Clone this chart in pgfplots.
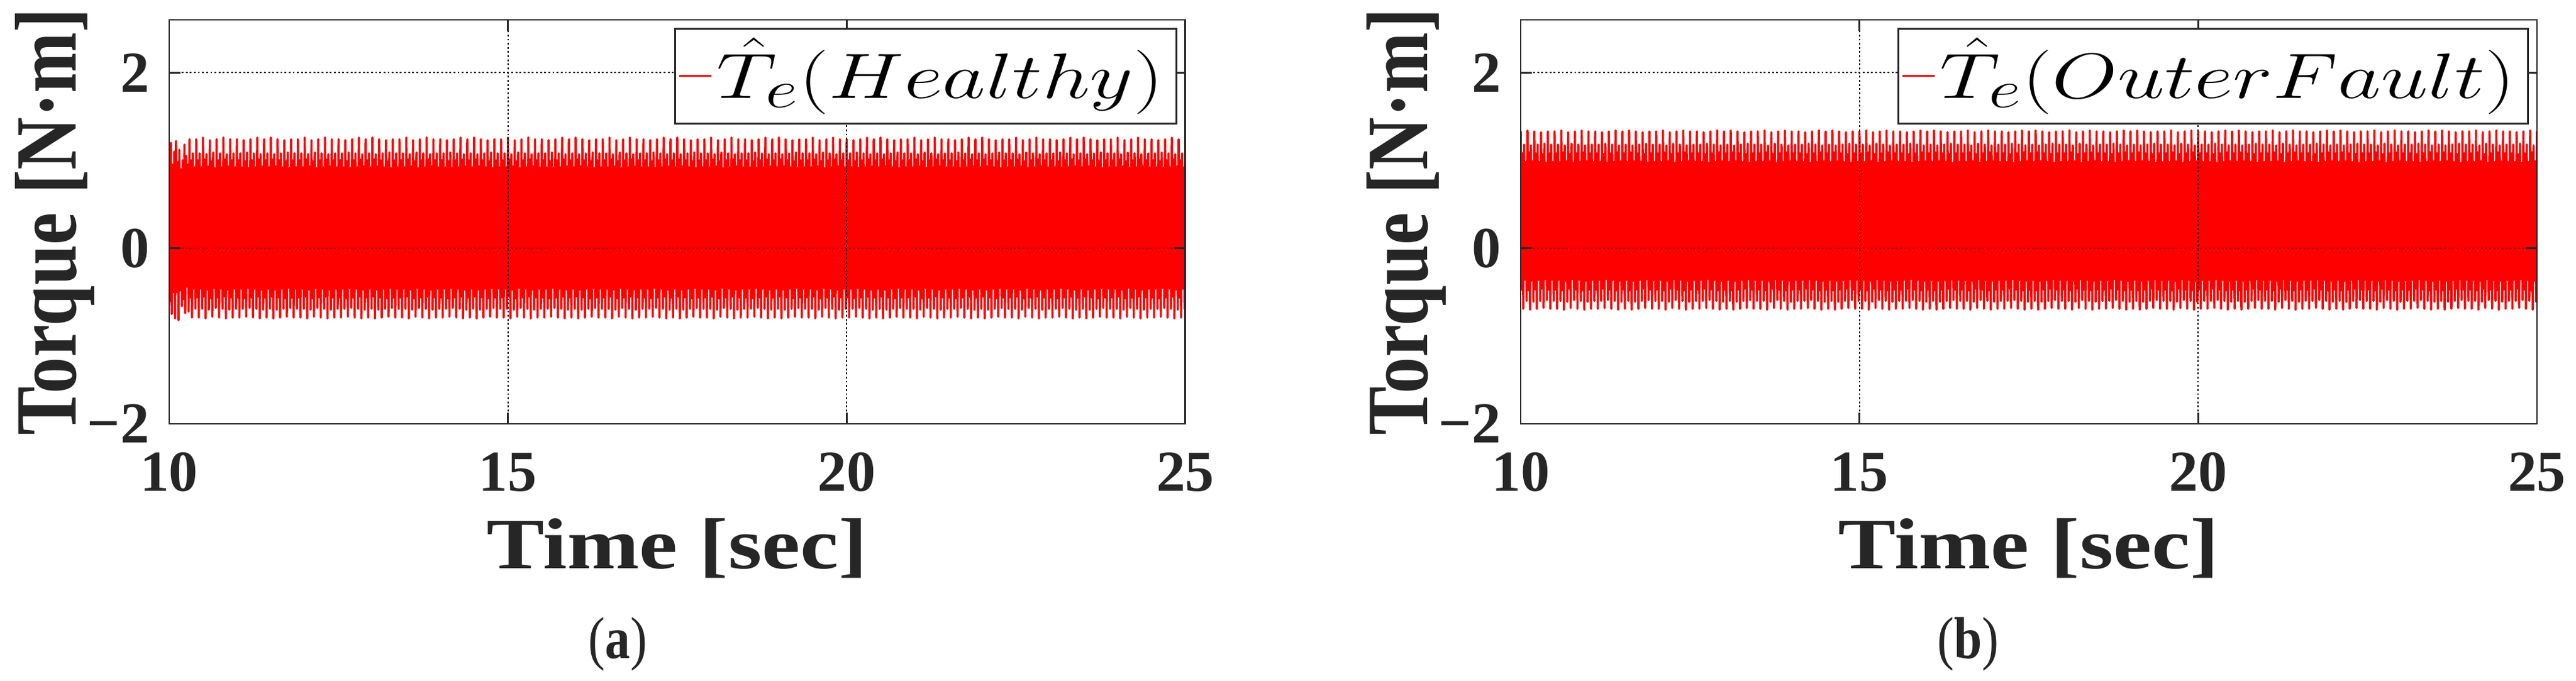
\documentclass[border=0pt]{standalone}
\usepackage{fontspec}
\setmainfont{Liberation Serif}
\newfontfamily\labfont[FakeStretch=1.2]{Liberation Serif}
\usepackage{graphicx}
\usepackage{pgfplots}
\pgfplotsset{compat=1.18}
\usepackage{pgfplotstable}
\definecolor{axgray}{RGB}{38,38,38}

% Healthy: 8 samples per 0.1 s period (one period per line), 150 periods + final point
\pgfplotstableread[header=false,row sep=\\]{
1.05\\-0.60\\1.20\\-0.75\\0.95\\-0.50\\1.10\\-0.80\\
1.22\\-0.50\\0.98\\-0.82\\1.12\\-0.48\\0.90\\-0.66\\
1.00\\-0.58\\1.18\\-0.74\\1.05\\-0.44\\0.95\\-0.72\\
1.24\\-0.56\\1.00\\-0.79\\1.08\\-0.46\\0.92\\-0.69\\
1.24\\-0.56\\1.00\\-0.79\\1.08\\-0.46\\0.92\\-0.69\\
1.26\\-0.55\\1.01\\-0.80\\1.07\\-0.47\\0.93\\-0.70\\
1.23\\-0.57\\0.99\\-0.78\\1.09\\-0.45\\0.91\\-0.68\\
1.24\\-0.56\\1.00\\-0.79\\1.08\\-0.46\\0.92\\-0.69\\
1.26\\-0.55\\1.01\\-0.80\\1.07\\-0.47\\0.93\\-0.70\\
1.24\\-0.56\\1.00\\-0.79\\1.08\\-0.46\\0.92\\-0.69\\
1.24\\-0.56\\1.00\\-0.79\\1.08\\-0.46\\0.92\\-0.69\\
1.23\\-0.57\\0.99\\-0.78\\1.09\\-0.45\\0.91\\-0.68\\
1.24\\-0.56\\1.00\\-0.79\\1.08\\-0.46\\0.92\\-0.69\\
1.26\\-0.55\\1.01\\-0.80\\1.07\\-0.47\\0.93\\-0.70\\
1.24\\-0.56\\1.00\\-0.79\\1.08\\-0.46\\0.92\\-0.69\\
1.26\\-0.55\\1.01\\-0.80\\1.07\\-0.47\\0.93\\-0.70\\
1.24\\-0.56\\1.00\\-0.79\\1.08\\-0.46\\0.92\\-0.69\\
1.23\\-0.57\\0.99\\-0.78\\1.09\\-0.45\\0.91\\-0.68\\
1.24\\-0.56\\1.00\\-0.79\\1.08\\-0.46\\0.92\\-0.69\\
1.24\\-0.56\\1.00\\-0.79\\1.08\\-0.46\\0.92\\-0.69\\
1.26\\-0.55\\1.01\\-0.80\\1.07\\-0.47\\0.93\\-0.70\\
1.23\\-0.57\\0.99\\-0.78\\1.09\\-0.45\\0.91\\-0.68\\
1.24\\-0.56\\1.00\\-0.79\\1.08\\-0.46\\0.92\\-0.69\\
1.26\\-0.55\\1.01\\-0.80\\1.07\\-0.47\\0.93\\-0.70\\
1.24\\-0.56\\1.00\\-0.79\\1.08\\-0.46\\0.92\\-0.69\\
1.24\\-0.56\\1.00\\-0.79\\1.08\\-0.46\\0.92\\-0.69\\
1.23\\-0.57\\0.99\\-0.78\\1.09\\-0.45\\0.91\\-0.68\\
1.24\\-0.56\\1.00\\-0.79\\1.08\\-0.46\\0.92\\-0.69\\
1.26\\-0.55\\1.01\\-0.80\\1.07\\-0.47\\0.93\\-0.70\\
1.24\\-0.56\\1.00\\-0.79\\1.08\\-0.46\\0.92\\-0.69\\
1.26\\-0.55\\1.01\\-0.80\\1.07\\-0.47\\0.93\\-0.70\\
1.24\\-0.56\\1.00\\-0.79\\1.08\\-0.46\\0.92\\-0.69\\
1.23\\-0.57\\0.99\\-0.78\\1.09\\-0.45\\0.91\\-0.68\\
1.24\\-0.56\\1.00\\-0.79\\1.08\\-0.46\\0.92\\-0.69\\
1.24\\-0.56\\1.00\\-0.79\\1.08\\-0.46\\0.92\\-0.69\\
1.26\\-0.55\\1.01\\-0.80\\1.07\\-0.47\\0.93\\-0.70\\
1.23\\-0.57\\0.99\\-0.78\\1.09\\-0.45\\0.91\\-0.68\\
1.24\\-0.56\\1.00\\-0.79\\1.08\\-0.46\\0.92\\-0.69\\
1.26\\-0.55\\1.01\\-0.80\\1.07\\-0.47\\0.93\\-0.70\\
1.24\\-0.56\\1.00\\-0.79\\1.08\\-0.46\\0.92\\-0.69\\
1.24\\-0.56\\1.00\\-0.79\\1.08\\-0.46\\0.92\\-0.69\\
1.23\\-0.57\\0.99\\-0.78\\1.09\\-0.45\\0.91\\-0.68\\
1.24\\-0.56\\1.00\\-0.79\\1.08\\-0.46\\0.92\\-0.69\\
1.26\\-0.55\\1.01\\-0.80\\1.07\\-0.47\\0.93\\-0.70\\
1.24\\-0.56\\1.00\\-0.79\\1.08\\-0.46\\0.92\\-0.69\\
1.26\\-0.55\\1.01\\-0.80\\1.07\\-0.47\\0.93\\-0.70\\
1.24\\-0.56\\1.00\\-0.79\\1.08\\-0.46\\0.92\\-0.69\\
1.23\\-0.57\\0.99\\-0.78\\1.09\\-0.45\\0.91\\-0.68\\
1.24\\-0.56\\1.00\\-0.79\\1.08\\-0.46\\0.92\\-0.69\\
1.24\\-0.56\\1.00\\-0.79\\1.08\\-0.46\\0.92\\-0.69\\
1.26\\-0.55\\1.01\\-0.80\\1.07\\-0.47\\0.93\\-0.70\\
1.23\\-0.57\\0.99\\-0.78\\1.09\\-0.45\\0.91\\-0.68\\
1.24\\-0.56\\1.00\\-0.79\\1.08\\-0.46\\0.92\\-0.69\\
1.26\\-0.55\\1.01\\-0.80\\1.07\\-0.47\\0.93\\-0.70\\
1.24\\-0.56\\1.00\\-0.79\\1.08\\-0.46\\0.92\\-0.69\\
1.24\\-0.56\\1.00\\-0.79\\1.08\\-0.46\\0.92\\-0.69\\
1.23\\-0.57\\0.99\\-0.78\\1.09\\-0.45\\0.91\\-0.68\\
1.24\\-0.56\\1.00\\-0.79\\1.08\\-0.46\\0.92\\-0.69\\
1.26\\-0.55\\1.01\\-0.80\\1.07\\-0.47\\0.93\\-0.70\\
1.24\\-0.56\\1.00\\-0.79\\1.08\\-0.46\\0.92\\-0.69\\
1.26\\-0.55\\1.01\\-0.80\\1.07\\-0.47\\0.93\\-0.70\\
1.24\\-0.56\\1.00\\-0.79\\1.08\\-0.46\\0.92\\-0.69\\
1.23\\-0.57\\0.99\\-0.78\\1.09\\-0.45\\0.91\\-0.68\\
1.24\\-0.56\\1.00\\-0.79\\1.08\\-0.46\\0.92\\-0.69\\
1.24\\-0.56\\1.00\\-0.79\\1.08\\-0.46\\0.92\\-0.69\\
1.26\\-0.55\\1.01\\-0.80\\1.07\\-0.47\\0.93\\-0.70\\
1.23\\-0.57\\0.99\\-0.78\\1.09\\-0.45\\0.91\\-0.68\\
1.24\\-0.56\\1.00\\-0.79\\1.08\\-0.46\\0.92\\-0.69\\
1.26\\-0.55\\1.01\\-0.80\\1.07\\-0.47\\0.93\\-0.70\\
1.24\\-0.56\\1.00\\-0.79\\1.08\\-0.46\\0.92\\-0.69\\
1.24\\-0.56\\1.00\\-0.79\\1.08\\-0.46\\0.92\\-0.69\\
1.23\\-0.57\\0.99\\-0.78\\1.09\\-0.45\\0.91\\-0.68\\
1.24\\-0.56\\1.00\\-0.79\\1.08\\-0.46\\0.92\\-0.69\\
1.26\\-0.55\\1.01\\-0.80\\1.07\\-0.47\\0.93\\-0.70\\
1.24\\-0.56\\1.00\\-0.79\\1.08\\-0.46\\0.92\\-0.69\\
1.26\\-0.55\\1.01\\-0.80\\1.07\\-0.47\\0.93\\-0.70\\
1.24\\-0.56\\1.00\\-0.79\\1.08\\-0.46\\0.92\\-0.69\\
1.23\\-0.57\\0.99\\-0.78\\1.09\\-0.45\\0.91\\-0.68\\
1.24\\-0.56\\1.00\\-0.79\\1.08\\-0.46\\0.92\\-0.69\\
1.24\\-0.56\\1.00\\-0.79\\1.08\\-0.46\\0.92\\-0.69\\
1.26\\-0.55\\1.01\\-0.80\\1.07\\-0.47\\0.93\\-0.70\\
1.23\\-0.57\\0.99\\-0.78\\1.09\\-0.45\\0.91\\-0.68\\
1.24\\-0.56\\1.00\\-0.79\\1.08\\-0.46\\0.92\\-0.69\\
1.26\\-0.55\\1.01\\-0.80\\1.07\\-0.47\\0.93\\-0.70\\
1.24\\-0.56\\1.00\\-0.79\\1.08\\-0.46\\0.92\\-0.69\\
1.24\\-0.56\\1.00\\-0.79\\1.08\\-0.46\\0.92\\-0.69\\
1.23\\-0.57\\0.99\\-0.78\\1.09\\-0.45\\0.91\\-0.68\\
1.24\\-0.56\\1.00\\-0.79\\1.08\\-0.46\\0.92\\-0.69\\
1.26\\-0.55\\1.01\\-0.80\\1.07\\-0.47\\0.93\\-0.70\\
1.24\\-0.56\\1.00\\-0.79\\1.08\\-0.46\\0.92\\-0.69\\
1.26\\-0.55\\1.01\\-0.80\\1.07\\-0.47\\0.93\\-0.70\\
1.24\\-0.56\\1.00\\-0.79\\1.08\\-0.46\\0.92\\-0.69\\
1.23\\-0.57\\0.99\\-0.78\\1.09\\-0.45\\0.91\\-0.68\\
1.24\\-0.56\\1.00\\-0.79\\1.08\\-0.46\\0.92\\-0.69\\
1.24\\-0.56\\1.00\\-0.79\\1.08\\-0.46\\0.92\\-0.69\\
1.26\\-0.55\\1.01\\-0.80\\1.07\\-0.47\\0.93\\-0.70\\
1.23\\-0.57\\0.99\\-0.78\\1.09\\-0.45\\0.91\\-0.68\\
1.24\\-0.56\\1.00\\-0.79\\1.08\\-0.46\\0.92\\-0.69\\
1.26\\-0.55\\1.01\\-0.80\\1.07\\-0.47\\0.93\\-0.70\\
1.24\\-0.56\\1.00\\-0.79\\1.08\\-0.46\\0.92\\-0.69\\
1.24\\-0.56\\1.00\\-0.79\\1.08\\-0.46\\0.92\\-0.69\\
1.23\\-0.57\\0.99\\-0.78\\1.09\\-0.45\\0.91\\-0.68\\
1.24\\-0.56\\1.00\\-0.79\\1.08\\-0.46\\0.92\\-0.69\\
1.26\\-0.55\\1.01\\-0.80\\1.07\\-0.47\\0.93\\-0.70\\
1.24\\-0.56\\1.00\\-0.79\\1.08\\-0.46\\0.92\\-0.69\\
1.26\\-0.55\\1.01\\-0.80\\1.07\\-0.47\\0.93\\-0.70\\
1.24\\-0.56\\1.00\\-0.79\\1.08\\-0.46\\0.92\\-0.69\\
1.23\\-0.57\\0.99\\-0.78\\1.09\\-0.45\\0.91\\-0.68\\
1.24\\-0.56\\1.00\\-0.79\\1.08\\-0.46\\0.92\\-0.69\\
1.24\\-0.56\\1.00\\-0.79\\1.08\\-0.46\\0.92\\-0.69\\
1.26\\-0.55\\1.01\\-0.80\\1.07\\-0.47\\0.93\\-0.70\\
1.23\\-0.57\\0.99\\-0.78\\1.09\\-0.45\\0.91\\-0.68\\
1.24\\-0.56\\1.00\\-0.79\\1.08\\-0.46\\0.92\\-0.69\\
1.26\\-0.55\\1.01\\-0.80\\1.07\\-0.47\\0.93\\-0.70\\
1.24\\-0.56\\1.00\\-0.79\\1.08\\-0.46\\0.92\\-0.69\\
1.24\\-0.56\\1.00\\-0.79\\1.08\\-0.46\\0.92\\-0.69\\
1.23\\-0.57\\0.99\\-0.78\\1.09\\-0.45\\0.91\\-0.68\\
1.24\\-0.56\\1.00\\-0.79\\1.08\\-0.46\\0.92\\-0.69\\
1.26\\-0.55\\1.01\\-0.80\\1.07\\-0.47\\0.93\\-0.70\\
1.24\\-0.56\\1.00\\-0.79\\1.08\\-0.46\\0.92\\-0.69\\
1.26\\-0.55\\1.01\\-0.80\\1.07\\-0.47\\0.93\\-0.70\\
1.24\\-0.56\\1.00\\-0.79\\1.08\\-0.46\\0.92\\-0.69\\
1.23\\-0.57\\0.99\\-0.78\\1.09\\-0.45\\0.91\\-0.68\\
1.24\\-0.56\\1.00\\-0.79\\1.08\\-0.46\\0.92\\-0.69\\
1.24\\-0.56\\1.00\\-0.79\\1.08\\-0.46\\0.92\\-0.69\\
1.26\\-0.55\\1.01\\-0.80\\1.07\\-0.47\\0.93\\-0.70\\
1.23\\-0.57\\0.99\\-0.78\\1.09\\-0.45\\0.91\\-0.68\\
1.24\\-0.56\\1.00\\-0.79\\1.08\\-0.46\\0.92\\-0.69\\
1.26\\-0.55\\1.01\\-0.80\\1.07\\-0.47\\0.93\\-0.70\\
1.24\\-0.56\\1.00\\-0.79\\1.08\\-0.46\\0.92\\-0.69\\
1.24\\-0.56\\1.00\\-0.79\\1.08\\-0.46\\0.92\\-0.69\\
1.23\\-0.57\\0.99\\-0.78\\1.09\\-0.45\\0.91\\-0.68\\
1.24\\-0.56\\1.00\\-0.79\\1.08\\-0.46\\0.92\\-0.69\\
1.26\\-0.55\\1.01\\-0.80\\1.07\\-0.47\\0.93\\-0.70\\
1.24\\-0.56\\1.00\\-0.79\\1.08\\-0.46\\0.92\\-0.69\\
1.26\\-0.55\\1.01\\-0.80\\1.07\\-0.47\\0.93\\-0.70\\
1.24\\-0.56\\1.00\\-0.79\\1.08\\-0.46\\0.92\\-0.69\\
1.23\\-0.57\\0.99\\-0.78\\1.09\\-0.45\\0.91\\-0.68\\
1.24\\-0.56\\1.00\\-0.79\\1.08\\-0.46\\0.92\\-0.69\\
1.24\\-0.56\\1.00\\-0.79\\1.08\\-0.46\\0.92\\-0.69\\
1.26\\-0.55\\1.01\\-0.80\\1.07\\-0.47\\0.93\\-0.70\\
1.23\\-0.57\\0.99\\-0.78\\1.09\\-0.45\\0.91\\-0.68\\
1.24\\-0.56\\1.00\\-0.79\\1.08\\-0.46\\0.92\\-0.69\\
1.26\\-0.55\\1.01\\-0.80\\1.07\\-0.47\\0.93\\-0.70\\
1.24\\-0.56\\1.00\\-0.79\\1.08\\-0.46\\0.92\\-0.69\\
1.24\\-0.56\\1.00\\-0.79\\1.08\\-0.46\\0.92\\-0.69\\
1.23\\-0.57\\0.99\\-0.78\\1.09\\-0.45\\0.91\\-0.68\\
1.24\\-0.56\\1.00\\-0.79\\1.08\\-0.46\\0.92\\-0.69\\
1.26\\-0.55\\1.01\\-0.80\\1.07\\-0.47\\0.93\\-0.70\\
1.24\\-0.56\\1.00\\-0.79\\1.08\\-0.46\\0.92\\-0.69\\
1.24\\
}\healthy

% Outer fault: same sampling
\pgfplotstableread[header=false,row sep=\\]{
1.33\\-0.47\\1.08\\-0.69\\1.18\\-0.36\\0.98\\-0.60\\
1.34\\-0.48\\1.09\\-0.70\\1.17\\-0.37\\0.99\\-0.61\\
1.33\\-0.47\\1.08\\-0.69\\1.18\\-0.36\\0.98\\-0.60\\
1.32\\-0.46\\1.07\\-0.68\\1.19\\-0.35\\0.97\\-0.59\\
1.33\\-0.47\\1.08\\-0.69\\1.18\\-0.36\\0.98\\-0.60\\
1.33\\-0.47\\1.08\\-0.69\\1.18\\-0.36\\0.98\\-0.60\\
1.34\\-0.48\\1.09\\-0.70\\1.17\\-0.37\\0.99\\-0.61\\
1.32\\-0.46\\1.07\\-0.68\\1.19\\-0.35\\0.97\\-0.59\\
1.33\\-0.47\\1.08\\-0.69\\1.18\\-0.36\\0.98\\-0.60\\
1.34\\-0.48\\1.09\\-0.70\\1.17\\-0.37\\0.99\\-0.61\\
1.33\\-0.47\\1.08\\-0.69\\1.18\\-0.36\\0.98\\-0.60\\
1.33\\-0.47\\1.08\\-0.69\\1.18\\-0.36\\0.98\\-0.60\\
1.32\\-0.46\\1.07\\-0.68\\1.19\\-0.35\\0.97\\-0.59\\
1.33\\-0.47\\1.08\\-0.69\\1.18\\-0.36\\0.98\\-0.60\\
1.34\\-0.48\\1.09\\-0.70\\1.17\\-0.37\\0.99\\-0.61\\
1.33\\-0.47\\1.08\\-0.69\\1.18\\-0.36\\0.98\\-0.60\\
1.34\\-0.48\\1.09\\-0.70\\1.17\\-0.37\\0.99\\-0.61\\
1.33\\-0.47\\1.08\\-0.69\\1.18\\-0.36\\0.98\\-0.60\\
1.32\\-0.46\\1.07\\-0.68\\1.19\\-0.35\\0.97\\-0.59\\
1.33\\-0.47\\1.08\\-0.69\\1.18\\-0.36\\0.98\\-0.60\\
1.33\\-0.47\\1.08\\-0.69\\1.18\\-0.36\\0.98\\-0.60\\
1.34\\-0.48\\1.09\\-0.70\\1.17\\-0.37\\0.99\\-0.61\\
1.32\\-0.46\\1.07\\-0.68\\1.19\\-0.35\\0.97\\-0.59\\
1.33\\-0.47\\1.08\\-0.69\\1.18\\-0.36\\0.98\\-0.60\\
1.34\\-0.48\\1.09\\-0.70\\1.17\\-0.37\\0.99\\-0.61\\
1.33\\-0.47\\1.08\\-0.69\\1.18\\-0.36\\0.98\\-0.60\\
1.33\\-0.47\\1.08\\-0.69\\1.18\\-0.36\\0.98\\-0.60\\
1.32\\-0.46\\1.07\\-0.68\\1.19\\-0.35\\0.97\\-0.59\\
1.33\\-0.47\\1.08\\-0.69\\1.18\\-0.36\\0.98\\-0.60\\
1.34\\-0.48\\1.09\\-0.70\\1.17\\-0.37\\0.99\\-0.61\\
1.33\\-0.47\\1.08\\-0.69\\1.18\\-0.36\\0.98\\-0.60\\
1.34\\-0.48\\1.09\\-0.70\\1.17\\-0.37\\0.99\\-0.61\\
1.33\\-0.47\\1.08\\-0.69\\1.18\\-0.36\\0.98\\-0.60\\
1.32\\-0.46\\1.07\\-0.68\\1.19\\-0.35\\0.97\\-0.59\\
1.33\\-0.47\\1.08\\-0.69\\1.18\\-0.36\\0.98\\-0.60\\
1.33\\-0.47\\1.08\\-0.69\\1.18\\-0.36\\0.98\\-0.60\\
1.34\\-0.48\\1.09\\-0.70\\1.17\\-0.37\\0.99\\-0.61\\
1.32\\-0.46\\1.07\\-0.68\\1.19\\-0.35\\0.97\\-0.59\\
1.33\\-0.47\\1.08\\-0.69\\1.18\\-0.36\\0.98\\-0.60\\
1.34\\-0.48\\1.09\\-0.70\\1.17\\-0.37\\0.99\\-0.61\\
1.33\\-0.47\\1.08\\-0.69\\1.18\\-0.36\\0.98\\-0.60\\
1.33\\-0.47\\1.08\\-0.69\\1.18\\-0.36\\0.98\\-0.60\\
1.32\\-0.46\\1.07\\-0.68\\1.19\\-0.35\\0.97\\-0.59\\
1.33\\-0.47\\1.08\\-0.69\\1.18\\-0.36\\0.98\\-0.60\\
1.34\\-0.48\\1.09\\-0.70\\1.17\\-0.37\\0.99\\-0.61\\
1.33\\-0.47\\1.08\\-0.69\\1.18\\-0.36\\0.98\\-0.60\\
1.34\\-0.48\\1.09\\-0.70\\1.17\\-0.37\\0.99\\-0.61\\
1.33\\-0.47\\1.08\\-0.69\\1.18\\-0.36\\0.98\\-0.60\\
1.32\\-0.46\\1.07\\-0.68\\1.19\\-0.35\\0.97\\-0.59\\
1.33\\-0.47\\1.08\\-0.69\\1.18\\-0.36\\0.98\\-0.60\\
1.33\\-0.47\\1.08\\-0.69\\1.18\\-0.36\\0.98\\-0.60\\
1.34\\-0.48\\1.09\\-0.70\\1.17\\-0.37\\0.99\\-0.61\\
1.32\\-0.46\\1.07\\-0.68\\1.19\\-0.35\\0.97\\-0.59\\
1.33\\-0.47\\1.08\\-0.69\\1.18\\-0.36\\0.98\\-0.60\\
1.34\\-0.48\\1.09\\-0.70\\1.17\\-0.37\\0.99\\-0.61\\
1.33\\-0.47\\1.08\\-0.69\\1.18\\-0.36\\0.98\\-0.60\\
1.33\\-0.47\\1.08\\-0.69\\1.18\\-0.36\\0.98\\-0.60\\
1.32\\-0.46\\1.07\\-0.68\\1.19\\-0.35\\0.97\\-0.59\\
1.33\\-0.47\\1.08\\-0.69\\1.18\\-0.36\\0.98\\-0.60\\
1.34\\-0.48\\1.09\\-0.70\\1.17\\-0.37\\0.99\\-0.61\\
1.33\\-0.47\\1.08\\-0.69\\1.18\\-0.36\\0.98\\-0.60\\
1.34\\-0.48\\1.09\\-0.70\\1.17\\-0.37\\0.99\\-0.61\\
1.33\\-0.47\\1.08\\-0.69\\1.18\\-0.36\\0.98\\-0.60\\
1.32\\-0.46\\1.07\\-0.68\\1.19\\-0.35\\0.97\\-0.59\\
1.33\\-0.47\\1.08\\-0.69\\1.18\\-0.36\\0.98\\-0.60\\
1.33\\-0.47\\1.08\\-0.69\\1.18\\-0.36\\0.98\\-0.60\\
1.34\\-0.48\\1.09\\-0.70\\1.17\\-0.37\\0.99\\-0.61\\
1.32\\-0.46\\1.07\\-0.68\\1.19\\-0.35\\0.97\\-0.59\\
1.33\\-0.47\\1.08\\-0.69\\1.18\\-0.36\\0.98\\-0.60\\
1.34\\-0.48\\1.09\\-0.70\\1.17\\-0.37\\0.99\\-0.61\\
1.33\\-0.47\\1.08\\-0.69\\1.18\\-0.36\\0.98\\-0.60\\
1.33\\-0.47\\1.08\\-0.69\\1.18\\-0.36\\0.98\\-0.60\\
1.32\\-0.46\\1.07\\-0.68\\1.19\\-0.35\\0.97\\-0.59\\
1.33\\-0.47\\1.08\\-0.69\\1.18\\-0.36\\0.98\\-0.60\\
1.34\\-0.48\\1.09\\-0.70\\1.17\\-0.37\\0.99\\-0.61\\
1.33\\-0.47\\1.08\\-0.69\\1.18\\-0.36\\0.98\\-0.60\\
1.34\\-0.48\\1.09\\-0.70\\1.17\\-0.37\\0.99\\-0.61\\
1.33\\-0.47\\1.08\\-0.69\\1.18\\-0.36\\0.98\\-0.60\\
1.32\\-0.46\\1.07\\-0.68\\1.19\\-0.35\\0.97\\-0.59\\
1.33\\-0.47\\1.08\\-0.69\\1.18\\-0.36\\0.98\\-0.60\\
1.33\\-0.47\\1.08\\-0.69\\1.18\\-0.36\\0.98\\-0.60\\
1.34\\-0.48\\1.09\\-0.70\\1.17\\-0.37\\0.99\\-0.61\\
1.32\\-0.46\\1.07\\-0.68\\1.19\\-0.35\\0.97\\-0.59\\
1.33\\-0.47\\1.08\\-0.69\\1.18\\-0.36\\0.98\\-0.60\\
1.34\\-0.48\\1.09\\-0.70\\1.17\\-0.37\\0.99\\-0.61\\
1.33\\-0.47\\1.08\\-0.69\\1.18\\-0.36\\0.98\\-0.60\\
1.33\\-0.47\\1.08\\-0.69\\1.18\\-0.36\\0.98\\-0.60\\
1.32\\-0.46\\1.07\\-0.68\\1.19\\-0.35\\0.97\\-0.59\\
1.33\\-0.47\\1.08\\-0.69\\1.18\\-0.36\\0.98\\-0.60\\
1.34\\-0.48\\1.09\\-0.70\\1.17\\-0.37\\0.99\\-0.61\\
1.33\\-0.47\\1.08\\-0.69\\1.18\\-0.36\\0.98\\-0.60\\
1.34\\-0.48\\1.09\\-0.70\\1.17\\-0.37\\0.99\\-0.61\\
1.33\\-0.47\\1.08\\-0.69\\1.18\\-0.36\\0.98\\-0.60\\
1.32\\-0.46\\1.07\\-0.68\\1.19\\-0.35\\0.97\\-0.59\\
1.33\\-0.47\\1.08\\-0.69\\1.18\\-0.36\\0.98\\-0.60\\
1.33\\-0.47\\1.08\\-0.69\\1.18\\-0.36\\0.98\\-0.60\\
1.34\\-0.48\\1.09\\-0.70\\1.17\\-0.37\\0.99\\-0.61\\
1.32\\-0.46\\1.07\\-0.68\\1.19\\-0.35\\0.97\\-0.59\\
1.33\\-0.47\\1.08\\-0.69\\1.18\\-0.36\\0.98\\-0.60\\
1.34\\-0.48\\1.09\\-0.70\\1.17\\-0.37\\0.99\\-0.61\\
1.33\\-0.47\\1.08\\-0.69\\1.18\\-0.36\\0.98\\-0.60\\
1.33\\-0.47\\1.08\\-0.69\\1.18\\-0.36\\0.98\\-0.60\\
1.32\\-0.46\\1.07\\-0.68\\1.19\\-0.35\\0.97\\-0.59\\
1.33\\-0.47\\1.08\\-0.69\\1.18\\-0.36\\0.98\\-0.60\\
1.34\\-0.48\\1.09\\-0.70\\1.17\\-0.37\\0.99\\-0.61\\
1.33\\-0.47\\1.08\\-0.69\\1.18\\-0.36\\0.98\\-0.60\\
1.34\\-0.48\\1.09\\-0.70\\1.17\\-0.37\\0.99\\-0.61\\
1.33\\-0.47\\1.08\\-0.69\\1.18\\-0.36\\0.98\\-0.60\\
1.32\\-0.46\\1.07\\-0.68\\1.19\\-0.35\\0.97\\-0.59\\
1.33\\-0.47\\1.08\\-0.69\\1.18\\-0.36\\0.98\\-0.60\\
1.33\\-0.47\\1.08\\-0.69\\1.18\\-0.36\\0.98\\-0.60\\
1.34\\-0.48\\1.09\\-0.70\\1.17\\-0.37\\0.99\\-0.61\\
1.32\\-0.46\\1.07\\-0.68\\1.19\\-0.35\\0.97\\-0.59\\
1.33\\-0.47\\1.08\\-0.69\\1.18\\-0.36\\0.98\\-0.60\\
1.34\\-0.48\\1.09\\-0.70\\1.17\\-0.37\\0.99\\-0.61\\
1.33\\-0.47\\1.08\\-0.69\\1.18\\-0.36\\0.98\\-0.60\\
1.33\\-0.47\\1.08\\-0.69\\1.18\\-0.36\\0.98\\-0.60\\
1.32\\-0.46\\1.07\\-0.68\\1.19\\-0.35\\0.97\\-0.59\\
1.33\\-0.47\\1.08\\-0.69\\1.18\\-0.36\\0.98\\-0.60\\
1.34\\-0.48\\1.09\\-0.70\\1.17\\-0.37\\0.99\\-0.61\\
1.33\\-0.47\\1.08\\-0.69\\1.18\\-0.36\\0.98\\-0.60\\
1.34\\-0.48\\1.09\\-0.70\\1.17\\-0.37\\0.99\\-0.61\\
1.33\\-0.47\\1.08\\-0.69\\1.18\\-0.36\\0.98\\-0.60\\
1.32\\-0.46\\1.07\\-0.68\\1.19\\-0.35\\0.97\\-0.59\\
1.33\\-0.47\\1.08\\-0.69\\1.18\\-0.36\\0.98\\-0.60\\
1.33\\-0.47\\1.08\\-0.69\\1.18\\-0.36\\0.98\\-0.60\\
1.34\\-0.48\\1.09\\-0.70\\1.17\\-0.37\\0.99\\-0.61\\
1.32\\-0.46\\1.07\\-0.68\\1.19\\-0.35\\0.97\\-0.59\\
1.33\\-0.47\\1.08\\-0.69\\1.18\\-0.36\\0.98\\-0.60\\
1.34\\-0.48\\1.09\\-0.70\\1.17\\-0.37\\0.99\\-0.61\\
1.33\\-0.47\\1.08\\-0.69\\1.18\\-0.36\\0.98\\-0.60\\
1.33\\-0.47\\1.08\\-0.69\\1.18\\-0.36\\0.98\\-0.60\\
1.32\\-0.46\\1.07\\-0.68\\1.19\\-0.35\\0.97\\-0.59\\
1.33\\-0.47\\1.08\\-0.69\\1.18\\-0.36\\0.98\\-0.60\\
1.34\\-0.48\\1.09\\-0.70\\1.17\\-0.37\\0.99\\-0.61\\
1.33\\-0.47\\1.08\\-0.69\\1.18\\-0.36\\0.98\\-0.60\\
1.34\\-0.48\\1.09\\-0.70\\1.17\\-0.37\\0.99\\-0.61\\
1.33\\-0.47\\1.08\\-0.69\\1.18\\-0.36\\0.98\\-0.60\\
1.32\\-0.46\\1.07\\-0.68\\1.19\\-0.35\\0.97\\-0.59\\
1.33\\-0.47\\1.08\\-0.69\\1.18\\-0.36\\0.98\\-0.60\\
1.33\\-0.47\\1.08\\-0.69\\1.18\\-0.36\\0.98\\-0.60\\
1.34\\-0.48\\1.09\\-0.70\\1.17\\-0.37\\0.99\\-0.61\\
1.32\\-0.46\\1.07\\-0.68\\1.19\\-0.35\\0.97\\-0.59\\
1.33\\-0.47\\1.08\\-0.69\\1.18\\-0.36\\0.98\\-0.60\\
1.34\\-0.48\\1.09\\-0.70\\1.17\\-0.37\\0.99\\-0.61\\
1.33\\-0.47\\1.08\\-0.69\\1.18\\-0.36\\0.98\\-0.60\\
1.33\\-0.47\\1.08\\-0.69\\1.18\\-0.36\\0.98\\-0.60\\
1.32\\-0.46\\1.07\\-0.68\\1.19\\-0.35\\0.97\\-0.59\\
1.33\\-0.47\\1.08\\-0.69\\1.18\\-0.36\\0.98\\-0.60\\
1.34\\-0.48\\1.09\\-0.70\\1.17\\-0.37\\0.99\\-0.61\\
1.33\\-0.47\\1.08\\-0.69\\1.18\\-0.36\\0.98\\-0.60\\
1.33\\
}\outer

\pgfplotsset{
  torqueaxis/.style={
    scale only axis, width=394.5pt, height=156.84pt,
    xmin=10, xmax=25, ymin=-2, ymax=2.6,
    xtick={10,15,20,25}, xticklabels={10,15,20,25},
    ytick={-2,0,2}, yticklabels={−2,0,2},
    tick pos=both, tick align=inside, major tick length=4.4pt,
    every tick/.style={axgray, line width=0.7pt},
    axis line style={axgray, line width=0.7pt},
    axis on top,
    grid=major,
    major grid style={black, line width=0.45pt, dash pattern=on 0.7pt off 0.9pt},
    xticklabel style={font=\fontsize{22.5}{22.5}\selectfont\bfseries, text=axgray, anchor=base, yshift=-26pt, inner sep=0pt},
    yticklabel style={font=\fontsize{22.5}{22.5}\selectfont\bfseries, text=axgray, anchor=east, xshift=-7.5pt, inner sep=0pt},
    every axis x label/.style={at={(axis description cs:0.5,0)}, anchor=base, yshift=-56.05pt, inner sep=0pt, text=axgray, font=\fontsize{28}{28}\selectfont},
    every axis y label/.style={at={(axis description cs:0,0.5)}, xshift=-44.3pt, rotate=90, anchor=center, inner sep=0pt, text=axgray, font=\fontsize{28.3}{28.3}\selectfont},
    xlabel={\labfont\bfseries Time [sec]},
    ylabel={\scalebox{1}[1.2]{\bfseries Torque [N·m]}},
    every axis legend/.style={cells={anchor=center}, at={(axis description cs:1,1)}, anchor=north east, xshift=-3.1pt, yshift=-3.1pt, shape=rectangle, fill=white, draw=axgray, line width=0.7pt, inner xsep=1.2pt, inner ysep=0pt, nodes={inner sep=0pt}, font=\fontsize{30}{30}\selectfont, /tikz/every odd column/.append style={column sep=1.7pt}},
    legend image code/.code={\draw[#1, line width=0.75pt] (0pt,0pt) -- (12.5pt,0pt);},
  }
}

\begin{document}
\begin{tikzpicture}
\useasboundingbox (0,0) rectangle (1000pt,-264.37pt);
\begin{axis}[torqueaxis, at={(65.67pt,-164.54pt)}, anchor=south west]
\addplot[red, line width=0.85pt, line join=round] table[x expr=10+\coordindex*0.0125, y index=0] {\healthy};
\addlegendentry{\rule[-9.9pt]{0pt}{36.8pt}\scalebox{1.32}[1]{$\hat{T}_e(Healthy)$}\hspace*{3.8pt}}
\end{axis}
\begin{axis}[torqueaxis, at={(590.33pt,-164.54pt)}, anchor=south west]
\addplot[red, line width=0.85pt, line join=round] table[x expr=10+\coordindex*0.0125, y index=0] {\outer};
\addlegendentry{\rule[-9.9pt]{0pt}{36.8pt}\scalebox{1.32}[1]{$\hat{T}_e(OuterFault)$}\hspace*{3.8pt}}
\end{axis}
\node[anchor=base, font=\fontsize{23}{23}\selectfont, text=axgray] at (239.8pt,-255.5pt) {\scalebox{0.85}[1]{(\textbf{a})}};
\node[anchor=base, font=\fontsize{23}{23}\selectfont, text=axgray] at (764.0pt,-255.5pt) {\scalebox{0.85}[1]{(\textbf{b})}};
\end{tikzpicture}
\end{document}
